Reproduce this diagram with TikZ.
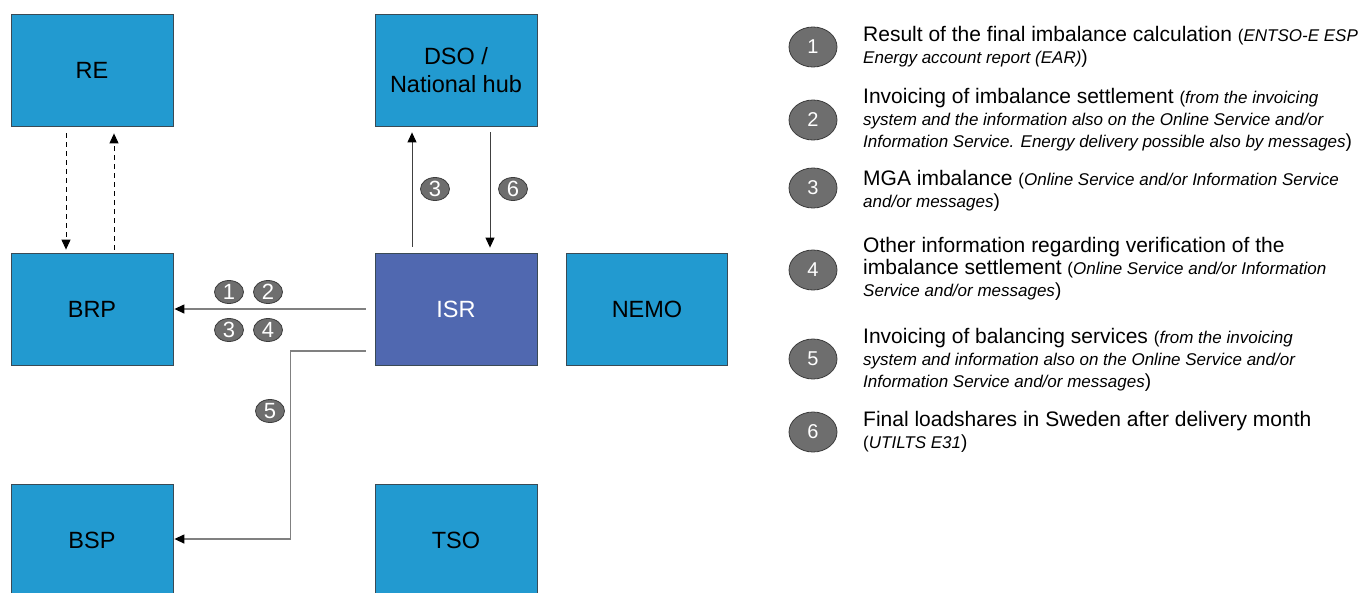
\documentclass[tikz,border=0pt]{standalone}
\usepackage{fontspec}
\setmainfont{Liberation Sans}
\usetikzlibrary{arrows.meta,calc,shapes.geometric}
\definecolor{boxblue}{HTML}{229AD0}
\definecolor{isrblue}{HTML}{5068B0}
\definecolor{badgegray}{HTML}{6E6E6E}
\definecolor{badgeedge}{HTML}{3C3C3C}
\definecolor{linegray}{HTML}{808080}
\definecolor{boxedge}{HTML}{3A4A55}
\newcommand{\smit}[1]{{\fontsize{17}{22}\selectfont\itshape #1}}
\newcommand{\smp}[1]{{\fontsize{17}{22}\selectfont #1}}
\newcommand{\cp}{{\fontsize{19}{22}\selectfont )}}
\begin{document}
\begin{tikzpicture}[x=1pt,y=-1pt,
  entity/.style={draw=boxedge, line width=0.8pt, fill=boxblue, minimum width=162pt, minimum height=112pt, inner sep=0pt, font=\fontsize{23.5}{28}\selectfont, align=center},
  badge/.style={ellipse, draw=badgeedge, line width=0.8pt, fill=badgegray, minimum width=29pt, minimum height=23pt, inner sep=0pt, text=white, font=\fontsize{22}{22}\selectfont},
  bigbadge/.style={badge, minimum width=48pt, minimum height=40pt, font=\fontsize{20}{20}\selectfont},
  flow/.style={draw=linegray, line width=1.3pt, -{Triangle[length=10pt,width=9pt,color=black]}},
  flowdark/.style={draw=black!75, line width=1pt, -{Triangle[length=10pt,width=9pt,color=black]}},
  dflow/.style={draw=black, line width=1pt, dash pattern=on 5pt off 4pt, -{Triangle[length=10pt,width=9pt,color=black]}},
  legend/.style={anchor=west, align=left, inner sep=0pt, font=\fontsize{21}{22}\selectfont}
]
\path[use as bounding box, fill=white] (0,0) rectangle (1372,592);

% entities
\node[entity] (RE) at (92,70) {RE};
\node[entity] (BRP) at (92,309) {BRP};
\node[entity] (BSP) at (92,540) {BSP};
\node[entity] (DSO) at (456,70) {DSO /\\National hub};
\node[entity, fill=isrblue, text=white] (ISR) at (456,309) {ISR};
\node[entity, minimum width=161pt] (NEMO) at (647,309) {NEMO};
\node[entity] (TSO) at (456,540) {TSO};

% RE <-> BRP dashed
\draw[dflow] ($(RE.south)+(-26,7)$) -- ($(BRP.north)+(-26,-3)$);
\draw[dflow] ($(BRP.north)+(22,-3)$) -- ($(RE.south)+(22,7)$);

% ISR <-> DSO
\draw[flowdark] ($(ISR.north)+(-44,-6)$) -- ($(DSO.south)+(-44,6)$);
\draw[flowdark] ($(DSO.south)+(34,6)$) -- ($(ISR.north)+(34,-5)$);

% ISR -> BRP
\draw[flow] ($(ISR.west)+(-9,0)$) -- ($(BRP.east)+(1,0)$);

% ISR -> BSP
\coordinate (c1) at ($(ISR.west)+(-9,42)$);
\draw[flow] (c1) -| ($(BSP.east)+(117,-1)$) -- ($(BSP.east)+(1,-1)$);

% badges on connectors
\node[badge] (b1) at (229,292) {1};
\node[badge] (b2) at (268,292) {2};
\node[badge] (b3) at (229,330) {3};
\node[badge] (b4) at (268,330) {4};
\node[badge] (b3d) at (435,189) {3};
\node[badge] (b6d) at (513,189) {6};
\node[badge] (b5) at (270,411) {5};

% legend
\node[bigbadge] (L1) at (813,47) {1};
\node[bigbadge] (L2) at (813,120) {2};
\node[bigbadge] (L3) at (813,188) {3};
\node[bigbadge] (L4) at (813,270) {4};
\node[bigbadge] (L5) at (813,359) {5};
\node[bigbadge] (L6) at (813,432) {6};

\node[legend] (T1) at (863,47) {Result of the final imbalance calculation \smp{(}\smit{ENTSO-E ESP}\\\smit{Energy account report (EAR)}\cp};
\node[legend] (T2) at (863,120) {Invoicing of imbalance settlement \smp{(}\smit{from the invoicing}\\\smit{system and the information also on the Online Service and/or}\\\smit{Information Service. Energy delivery possible also by messages}\cp};
\node[legend] (T3) at (863,191) {MGA imbalance \smp{(}\smit{Online Service and/or Information Service}\\\smit{and/or messages}\cp};
\node[legend] (T4) at (863,269) {Other information regarding verification of the\\imbalance settlement \smp{(}\smit{Online Service and/or Information}\\\smit{Service and/or messages}\cp};
\node[legend] (T5) at (863,360) {Invoicing of balancing services \smp{(}\smit{from the invoicing}\\\smit{system and information also on the Online Service and/or}\\\smit{Information Service and/or messages}\cp};
\node[legend] (T6) at (863,432) {Final loadshares in Sweden after delivery month\\\smp{(}\smit{UTILTS E31}\cp};
\end{tikzpicture}
\end{document}
